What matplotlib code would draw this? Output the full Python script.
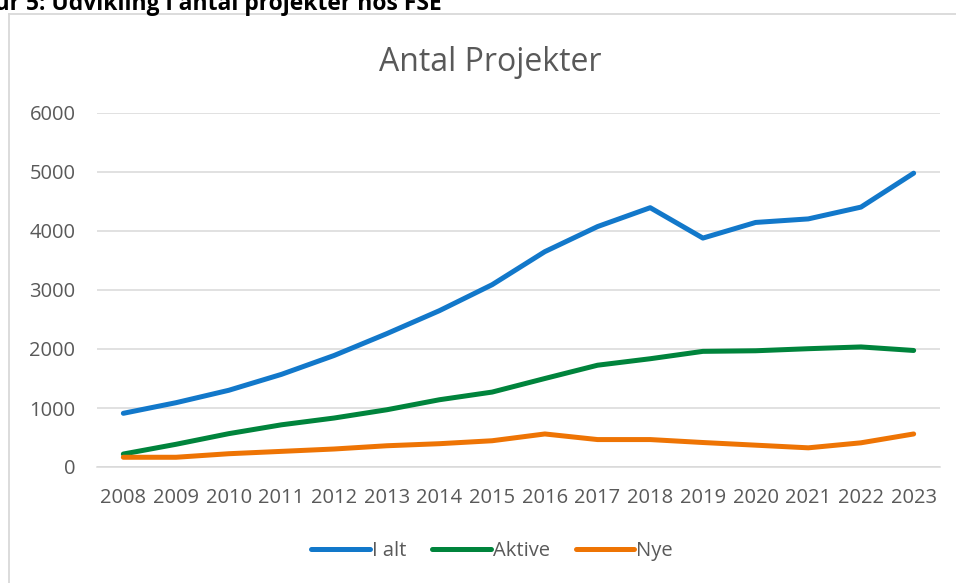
import matplotlib
matplotlib.use("Agg")
import matplotlib.pyplot as plt
from matplotlib.lines import Line2D
import numpy as np

years = ["2008", "2009", "2010", "2011", "2012", "2013", "2014", "2015",
         "2016", "2017", "2018", "2019", "2020", "2021", "2022", "2023"]
i_alt = [910, 1090, 1300, 1570, 1890, 2260, 2650, 3090,
         3650, 4075, 4395, 3880, 4145, 4205, 4405, 4980]
aktive = [220, 385, 565, 715, 830, 970, 1140, 1270,
          1500, 1725, 1835, 1960, 1970, 2005, 2035, 1975]
nye = [165, 165, 225, 265, 305, 360, 395, 445,
       560, 465, 465, 415, 370, 325, 410, 560]
series_names = ["I alt", "Aktive", "Nye"]
yticks = [0, 1000, 2000, 3000, 4000, 5000, 6000]

plt.rcParams['font.family'] = ['Open Sans', 'DejaVu Sans']

W, H = 956, 583
fig = plt.figure(figsize=(W / 100, H / 100), dpi=100)
fig.patch.set_facecolor("white")

# chart frame (cut off at right/bottom)
fx0, fy0 = 9 / W, 1 - 14 / H
fig.add_artist(Line2D([fx0, fx0], [fy0, -0.1], transform=fig.transFigure,
                      color="#d9d9d9", lw=1.3))
fig.add_artist(Line2D([fx0, 1.1], [fy0, fy0], transform=fig.transFigure,
                      color="#d9d9d9", lw=1.3))

# cut-off document caption at top
fig.text(442 / W, 1 - 10 / H, "Figur 5: Udvikling i antal projekter hos FSE",
         ha="right", va="baseline", fontsize=16.5, fontweight="bold",
         color="black", family=["Open Sans", "DejaVu Sans"])

left, right = 97 / W, 940 / W
bottom, top = 1 - 467 / H, 1 - 113 / H
ax = fig.add_axes([left, bottom, right - left, top - bottom])

x = np.arange(len(years))
colors = ["#1278CA", "#00843C", "#EE7404"]
for vals, name, c in zip([i_alt, aktive, nye], series_names, colors):
    ax.plot(x, vals, color=c, lw=3.6, label=name, solid_capstyle="round",
            solid_joinstyle="round", zorder=3)

ax.set_xlim(-0.5, len(years) - 0.5)
ax.set_ylim(0, 6000)
ax.set_yticks(yticks)
ax.set_yticklabels([str(v) for v in yticks])
ax.set_xticks(x)
ax.set_xticklabels(years)
ax.grid(axis="y", color="#d9d9d9", lw=1.1, zorder=0)
ax.set_axisbelow(True)
for s in ["top", "right", "left"]:
    ax.spines[s].set_visible(False)
ax.spines["bottom"].set_color("#d9d9d9")
ax.spines["bottom"].set_linewidth(1.1)
ax.tick_params(axis="both", length=0, labelsize=14.5, colors="#595959")
ax.tick_params(axis="y", pad=15.5)
ax.tick_params(axis="x", pad=15)

fig.text(490 / W, 1 - 71 / H, "Antal Projekter", ha="center", va="baseline",
         fontsize=23, color="#595959")

leg = fig.legend(loc="center", bbox_to_anchor=(492 / W, 1 - 551 / H), ncol=3,
                 frameon=False, fontsize=14.5, handlelength=2.9,
                 handletextpad=0.1, columnspacing=1.3, labelcolor="#595959")

fig.savefig("out.png", dpi=100, facecolor="white")
